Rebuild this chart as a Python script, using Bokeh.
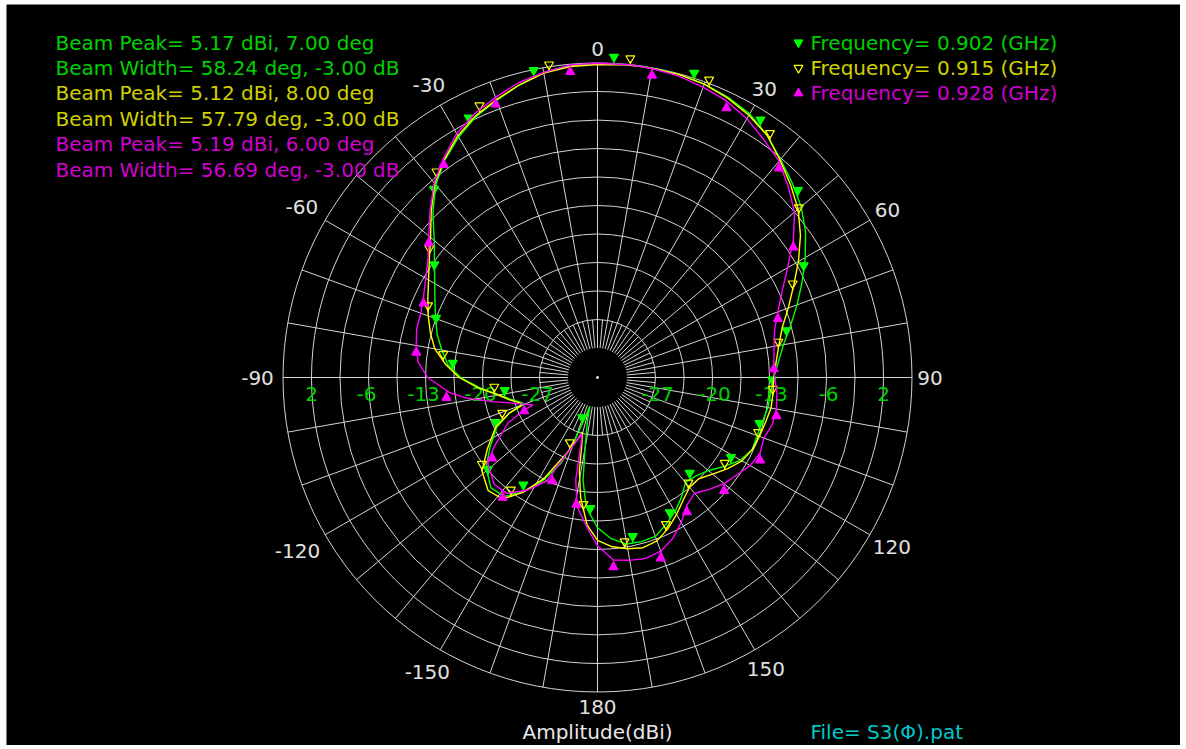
import numpy as np
from bokeh.plotting import figure
from bokeh.models import Range1d
from bokeh.embed import file_html
from bokeh.resources import INLINE
from bokeh.core.properties import value

# ---------------- data ----------------
freq_labels = ["Frequency= 0.902 (GHz)", "Frequency= 0.915 (GHz)", "Frequency= 0.928 (GHz)"]
beam_texts = [
    "Beam Peak= 5.17 dBi, 7.00 deg",
    "Beam Width= 58.24 deg, -3.00 dB",
    "Beam Peak= 5.12 dBi, 8.00 deg",
    "Beam Width= 57.79 deg, -3.00 dB",
    "Beam Peak= 5.19 dBi, 6.00 deg",
    "Beam Width= 56.69 deg, -3.00 dB",
]
angle_ticks = [0, 30, 60, 90, 120, 150, 180, -150, -120, -90, -60, -30]
radial_tick_labels = ["2", "-6", "-13", "-20", "-27"]
axis_title = "Amplitude(dBi)"
file_text = "File= S3(\u03a6).pat"

# 0.902 GHz
theta_902 = [-180, -175, -172, -170, -167, -165, -163, -160, -157, -152,
             -147, -142, -136, -129, -123, -116, -112, -110, -108, -104,
             -100, -95, -90, -85, -80, -75, -70, -65, -60, -55,
             -50, -45, -40, -35, -30, -25, -20, -15, -10, -5,
             0, 5, 7, 10, 15, 20, 25, 30, 35, 40,
             45, 50, 55, 60, 65, 70, 75, 80, 85, 90,
             95, 100, 105, 110, 115, 120, 125, 130, 135, 140,
             145, 150, 155, 160, 165, 170, 175, 180]
gain_902 = [-15.7, -18.3, -21.6, -25.7, -29.1, -31.0, -29.7, -26.2, -23.0, -19.9,
            -17.5, -15.6, -15.3, -16.6, -18.5, -20.6, -22.7, -24.9, -24.6, -23.4,
            -22.1, -19.8, -17.4, -15.7, -14.7, -13.7, -12.9, -12.0, -10.9, -9.5,
            -7.7, -5.2, -2.8, -1.0, 0.5, 1.8, 2.7, 3.7, 4.6, 5.0,
            5.1, 5.15, 5.17, 5.15, 5.1, 4.9, 4.5, 3.9, 2.8, 1.4,
            0.2, -1.0, -2.5, -4.3, -6.1, -7.8, -9.4, -10.8, -11.7, -12.4,
            -12.7, -12.8, -13.1, -13.2, -13.1, -13.8, -15.1, -16.4, -17.1, -17.4,
            -16.2, -15.1, -14.2, -13.3, -13.2, -13.3, -14.2, -15.7]

# 0.915 GHz
theta_915 = [-180, -176, -172, -169, -166, -164.5, -162, -158, -152, -147,
             -142, -136, -129, -123, -116, -112, -110, -108, -104, -100,
             -95, -90, -85, -80, -75, -70, -65, -60, -55, -50,
             -45, -40, -35, -30, -25, -20, -15, -10, -5, 0,
             5, 8, 10, 15, 20, 25, 30, 35, 40, 45,
             50, 55, 60, 65, 70, 75, 80, 85, 90, 95,
             100, 105, 110, 115, 120, 125, 130, 135, 140, 145,
             150, 155, 160, 165, 170, 175, 180]
gain_915 = [-14.1, -16.0, -19.4, -22.7, -26.9, -27.6, -26.5, -24.5, -20.2, -17.4,
            -15.2, -14.8, -15.9, -18.1, -20.4, -22.7, -24.6, -24.4, -23.2, -22.0,
            -19.6, -17.2, -15.4, -13.8, -12.8, -11.9, -11.0, -10.0, -8.7, -7.1,
            -4.9, -2.6, -0.9, 0.7, 1.9, 2.8, 3.7, 4.5, 4.9, 5.0,
            5.1, 5.12, 5.1, 5.1, 4.9, 4.4, 3.7, 2.8, 1.3, -0.1,
            -1.5, -3.3, -5.3, -7.3, -9.0, -10.5, -11.4, -12.0, -12.4, -12.4,
            -12.4, -12.7, -12.9, -13.1, -13.6, -14.6, -15.7, -16.6, -16.6, -15.8,
            -14.7, -13.6, -12.7, -12.4, -12.7, -13.2, -14.1]

# 0.928 GHz
theta_928 = [-180, -176, -171, -168, -165.5, -164, -161, -158, -154, -148,
             -142, -136, -128, -124, -117, -114, -113, -110, -106, -103,
             -99, -96, -90, -85, -80, -75, -70, -65, -60, -55,
             -50, -45, -40, -35, -30, -25, -20, -15, -10, -5,
             0, 6, 10, 15, 20, 25, 30, 35, 40, 45,
             50, 55, 60, 65, 70, 75, 80, 85, 90, 95,
             100, 105, 110, 115, 120, 125, 130, 135, 140, 145,
             150, 155, 160, 165, 170, 175, 180]
gain_928 = [-13.4, -15.7, -18.2, -21.5, -26.9, -27.4, -25.9, -24.4, -20.2, -17.9,
            -16.1, -15.9, -17.1, -18.9, -22.0, -24.6, -25.9, -24.9, -23.1, -21.2,
            -18.0, -16.0, -13.2, -11.9, -11.4, -11.0, -10.9, -10.4, -9.6, -8.5,
            -6.8, -4.7, -2.5, -0.7, 1.0, 2.2, 3.1, 4.0, 4.6, 5.1,
            5.15, 5.19, 5.1, 4.9, 4.5, 4.0, 3.2, 2.1, 1.1, -0.5,
            -2.1, -4.4, -6.9, -8.9, -10.4, -11.5, -12.0, -12.3, -12.3, -11.9,
            -11.7, -11.8, -12.3, -12.0, -12.4, -13.2, -13.8, -14.7, -15.6, -15.0,
            -13.5, -12.2, -11.3, -11.0, -11.2, -11.5, -13.4]

# first marker angle of each trace (markers every 15 deg)
marker_start = [3, 6, 10]

# ---------------- scale ----------------
DB_MAX = 5.19
DB_STEP = 3.625
N_RINGS = 10
DB_MIN = DB_MAX - DB_STEP * N_RINGS
R_OUT = 314.5
R_IN = 29.5
CX, CY = 597, 377           # centre in page pixels
FIG_W, FIG_H = 1180, 745
LEFT, TOP = 6, 4

def to_r(db):
    db = np.clip(np.asarray(db, dtype=float), DB_MIN, None)
    return R_IN + (db - DB_MIN) * (R_OUT - R_IN) / (DB_MAX - DB_MIN)

def to_xy(theta_deg, r):
    t = np.radians(np.asarray(theta_deg, dtype=float))
    r = np.asarray(r, dtype=float)
    return r * np.sin(t), r * np.cos(t)

p = figure(width=FIG_W, height=FIG_H,
           x_range=Range1d(LEFT - CX, FIG_W - CX),
           y_range=Range1d(CY - FIG_H, CY - TOP),
           output_backend="svg", toolbar_location=None,
           x_axis_type=None, y_axis_type=None,
           background_fill_color="black", border_fill_color="white",
           min_border_left=LEFT, min_border_top=TOP,
           min_border_right=0, min_border_bottom=0)
p.grid.visible = False
p.outline_line_color = None

GRID = "#d4d4d4"
FONT = value("DejaVu Sans")
FS = "20px"

# rings
ring_r = [R_OUT - k * (R_OUT - R_IN) / N_RINGS for k in range(N_RINGS)]
p.circle(x=[0] * len(ring_r), y=[0] * len(ring_r), radius=ring_r,
         fill_color=None, line_color=GRID, line_width=1)

# spokes
a10 = np.arange(0, 360, 10)
x0, y0 = to_xy(a10, R_IN)
x1, y1 = to_xy(a10, R_OUT)
p.segment(x0=x0, y0=y0, x1=x1, y1=y1, line_color=GRID, line_width=1)
a5 = np.arange(5, 360, 10)
x0, y0 = to_xy(a5, R_IN)
x1, y1 = to_xy(a5, ring_r[-1])
p.segment(x0=x0, y0=y0, x1=x1, y1=y1, line_color=GRID, line_width=1)
p.scatter(x=[0], y=[0], size=2, color="white")

# angle labels
lab_x, lab_y, lab_t = [], [], []
for a in angle_ticks:
    t = str(a)
    w = 11.5 * len(t.replace("-", "")) + (15 if a < 0 else 0)
    h = 16
    ext = abs(np.sin(np.radians(a))) * w / 2 + abs(np.cos(np.radians(a))) * h / 2
    x, y = to_xy(a, 321 + ext)
    lab_x.append(float(x)); lab_y.append(float(y)); lab_t.append(t)
p.text(x=lab_x, y=lab_y, text=lab_t, text_color="#e0e0e0", text_font=FONT,
       text_font_size=FS, text_align="center", text_baseline="middle")

# radial labels (odd rings), both sides
rx, ry, rt = [], [], []
for i, lbl in enumerate(radial_tick_labels):
    rr = ring_r[2 * i + 1]
    for s in (-1, 1):
        off = s * 2 if lbl.startswith("-") else 0
        rx.append(s * rr + off); ry.append(-16); rt.append(lbl)
p.text(x=rx, y=ry, text=rt, text_color="#00d000", text_font=FONT,
       text_font_size=FS, text_align="center", text_baseline="middle")

# traces
series = [(theta_902, gain_902, "#00ff00", "inverted_triangle", "#00ff00", 1),
          (theta_915, gain_915, "#ffff00", "inverted_triangle", None, 1),
          (theta_928, gain_928, "#ff00ff", "triangle", "#ff00ff", -1)]
for (th, g, col, mk, fill, side), m0 in zip(series, marker_start):
    x, y = to_xy(th, to_r(g))
    p.line(x=x, y=y, line_color=col, line_width=1.4)
    ma = np.arange(m0, m0 + 360, 15)
    ma = np.where(ma > 180, ma - 360, ma)
    mr = to_r(np.interp(ma, th, g))
    mx, my = to_xy(ma, mr)
    p.segment(x0=mx, y0=my, x1=mx, y1=my + side * 4, line_color=col, line_width=1.2)
    p.scatter(x=mx, y=my + side * 7, marker=mk, size=9, line_color=col,
              fill_color=fill, line_width=1.2)

# left info block
tcols = ["#00d000", "#00d000", "#d0d000", "#d0d000", "#d000d0", "#d000d0"]
bx = [55 - CX] * len(beam_texts)
by = [CY - (42 + 25.4 * i) for i in range(len(beam_texts))]
p.text(x=bx, y=by, text=beam_texts, text_color=tcols, text_font=FONT,
       text_font_size=FS, text_align="left", text_baseline="middle")

# legend
lcols = ["#00d000", "#d0d000", "#d000d0"]
ly = [CY - (42 + 25.4 * i) for i in range(3)]
p.text(x=[810 - CX] * 3, y=ly, text=freq_labels, text_color=lcols, text_font=FONT,
       text_font_size=FS, text_align="left", text_baseline="middle")
p.scatter(x=[798 - CX], y=[ly[0]], marker="inverted_triangle", size=9, color="#00ff00")
p.scatter(x=[798 - CX], y=[ly[1]], marker="inverted_triangle", size=9,
          line_color="#ffff00", fill_color=None, line_width=1.2)
p.scatter(x=[798 - CX], y=[ly[2]], marker="triangle", size=9, color="#ff00ff")

# bottom texts
p.text(x=[0], y=[CY - 731], text=[axis_title], text_color="#e8e8e8", text_font=FONT,
       text_font_size=FS, text_align="center", text_baseline="middle")
p.text(x=[810 - CX], y=[CY - 731], text=[file_text], text_color="#00c8c8", text_font=FONT,
       text_font_size=FS, text_align="left", text_baseline="middle")

open("out.html", "w").write(file_html(p, INLINE))
